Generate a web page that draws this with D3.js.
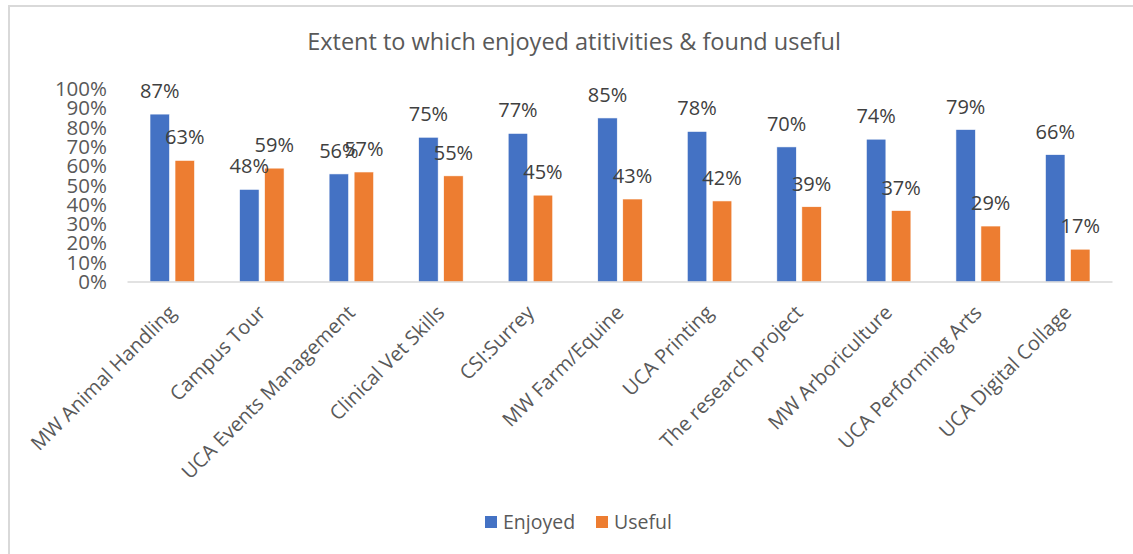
<!DOCTYPE html>
<html>
<head>
<meta charset="utf-8">
<script src="https://cdn.jsdelivr.net/npm/d3@7"></script>
<style>
  body { margin: 0; background: #fff; }
  svg { display: block; }
  text { font-family: "Open Sans", "Noto Sans", sans-serif; }
</style>
</head>
<body>
<div id="chart"></div>
<script>
// chart data
var categories = ["MW Animal Handling", "Campus Tour", "UCA Events Management",
  "Clinical Vet Skills", "CSI:Surrey", "MW Farm/Equine", "UCA Printing",
  "The research project", "MW Arboriculture", "UCA Performing Arts", "UCA Digital Collage"];
var enjoyed = [0.87, 0.48, 0.56, 0.75, 0.77, 0.85, 0.78, 0.70, 0.74, 0.79, 0.66];
var useful  = [0.63, 0.59, 0.57, 0.55, 0.45, 0.43, 0.42, 0.39, 0.37, 0.29, 0.17];
var seriesNames = ["Enjoyed", "Useful"];
var colours = ["#4472C4", "#ED7D31"];
var yTicks = [0, 0.1, 0.2, 0.3, 0.4, 0.5, 0.6, 0.7, 0.8, 0.9, 1];

var width = 1133, height = 554;
var svg = d3.select("#chart").append("svg")
    .attr("width", width)
    .attr("height", height);

// chart area border (right and bottom fall off the picture)
svg.append("rect")
    .attr("x", 9).attr("y", 6)
    .attr("width", 1140).attr("height", 560)
    .attr("fill", "#fff")
    .attr("stroke", "#d9d9d9")
    .attr("stroke-width", 2);

var chartCentre = 574;

svg.append("text")
    .attr("x", chartCentre).attr("y", 50)
    .attr("text-anchor", "middle")
    .style("font-size", "23.5px")
    .style("fill", "#595959")
    .text("Extent to which enjoyed atitivities & found useful");

var x = d3.scaleBand().domain(categories).range([127.5, 1112.5]);
var xs = d3.scaleBand().domain(seriesNames).range([0, x.bandwidth()])
    .paddingInner(0.22).paddingOuter(0.9);
var y = d3.scaleLinear().domain([0, 1]).range([282, 89]);

// y tick labels, no gridlines
var yAxis = d3.axisLeft(y).tickValues(yTicks).tickFormat(d3.format(".0%")).tickSize(0).tickPadding(0);
var ya = svg.append("g").attr("transform", "translate(107,0)").call(yAxis);
ya.select(".domain").remove();
ya.selectAll("text")
    .style("font-size", "20.5px")
    .style("font-family", "'Open Sans', sans-serif")
    .style("fill", "#595959");

var rows = categories.map(function(c, i) {
  return { cat: c, values: [
    { key: "Enjoyed", v: enjoyed[i], c: colours[0] },
    { key: "Useful", v: useful[i], c: colours[1] }
  ] };
});

var groups = svg.selectAll(".grp")
    .data(rows)
    .enter().append("g")
    .attr("class", "grp")
    .attr("transform", function(d) { return "translate(" + x(d.cat) + ",0)"; });

groups.selectAll("rect")
    .data(function(d) { return d.values; })
    .enter().append("rect")
    .attr("x", function(d) { return xs(d.key); })
    .attr("y", function(d) { return y(d.v); })
    .attr("width", xs.bandwidth())
    .attr("height", function(d) { return y(0) - y(d.v); })
    .attr("fill", function(d) { return d.c; })
    .attr("stroke", "#fff")
    .attr("stroke-width", 0.6);

// data labels, sitting above each bar
groups.selectAll(".lbl")
    .data(function(d) { return d.values; })
    .enter().append("text")
    .attr("class", "lbl")
    .attr("x", function(d) { return xs(d.key) + xs.bandwidth() / 2; })
    .attr("y", function(d) { return y(d.v) - 23; })
    .attr("dy", "0.35em")
    .attr("text-anchor", "middle")
    .style("font-size", "20px")
    .style("fill", "#404040")
    .text(function(d) { return d3.format(".0%")(d.v); });

// baseline
svg.append("line")
    .attr("x1", x.range()[0]).attr("x2", x.range()[1])
    .attr("y1", y(0)).attr("y2", y(0))
    .attr("stroke", "#d9d9d9")
    .attr("stroke-width", 1.5);

// rotated category labels
svg.selectAll(".cat")
    .data(categories)
    .enter().append("text")
    .attr("class", "cat")
    .attr("text-anchor", "end")
    .attr("transform", function(d) {
      return "translate(" + (x(d) + x.bandwidth() / 2 - 5) + ",304)rotate(-45)";
    })
    .attr("dy", "0.7em")
    .style("font-size", "20px")
    .style("fill", "#595959")
    .text(function(d) { return d; });

// legend
var legend = svg.append("g").attr("transform", "translate(485,516)");
var lx = [0, 111];
seriesNames.forEach(function(s, i) {
  var g = legend.append("g").attr("transform", "translate(" + lx[i] + ",0)");
  g.append("rect").attr("width", 12).attr("height", 12).attr("fill", colours[i]);
  g.append("text")
      .attr("x", 18).attr("y", 6).attr("dy", "0.35em")
      .style("font-size", "19.5px")
      .style("fill", "#595959")
      .text(s);
});
</script>
</body>
</html>
